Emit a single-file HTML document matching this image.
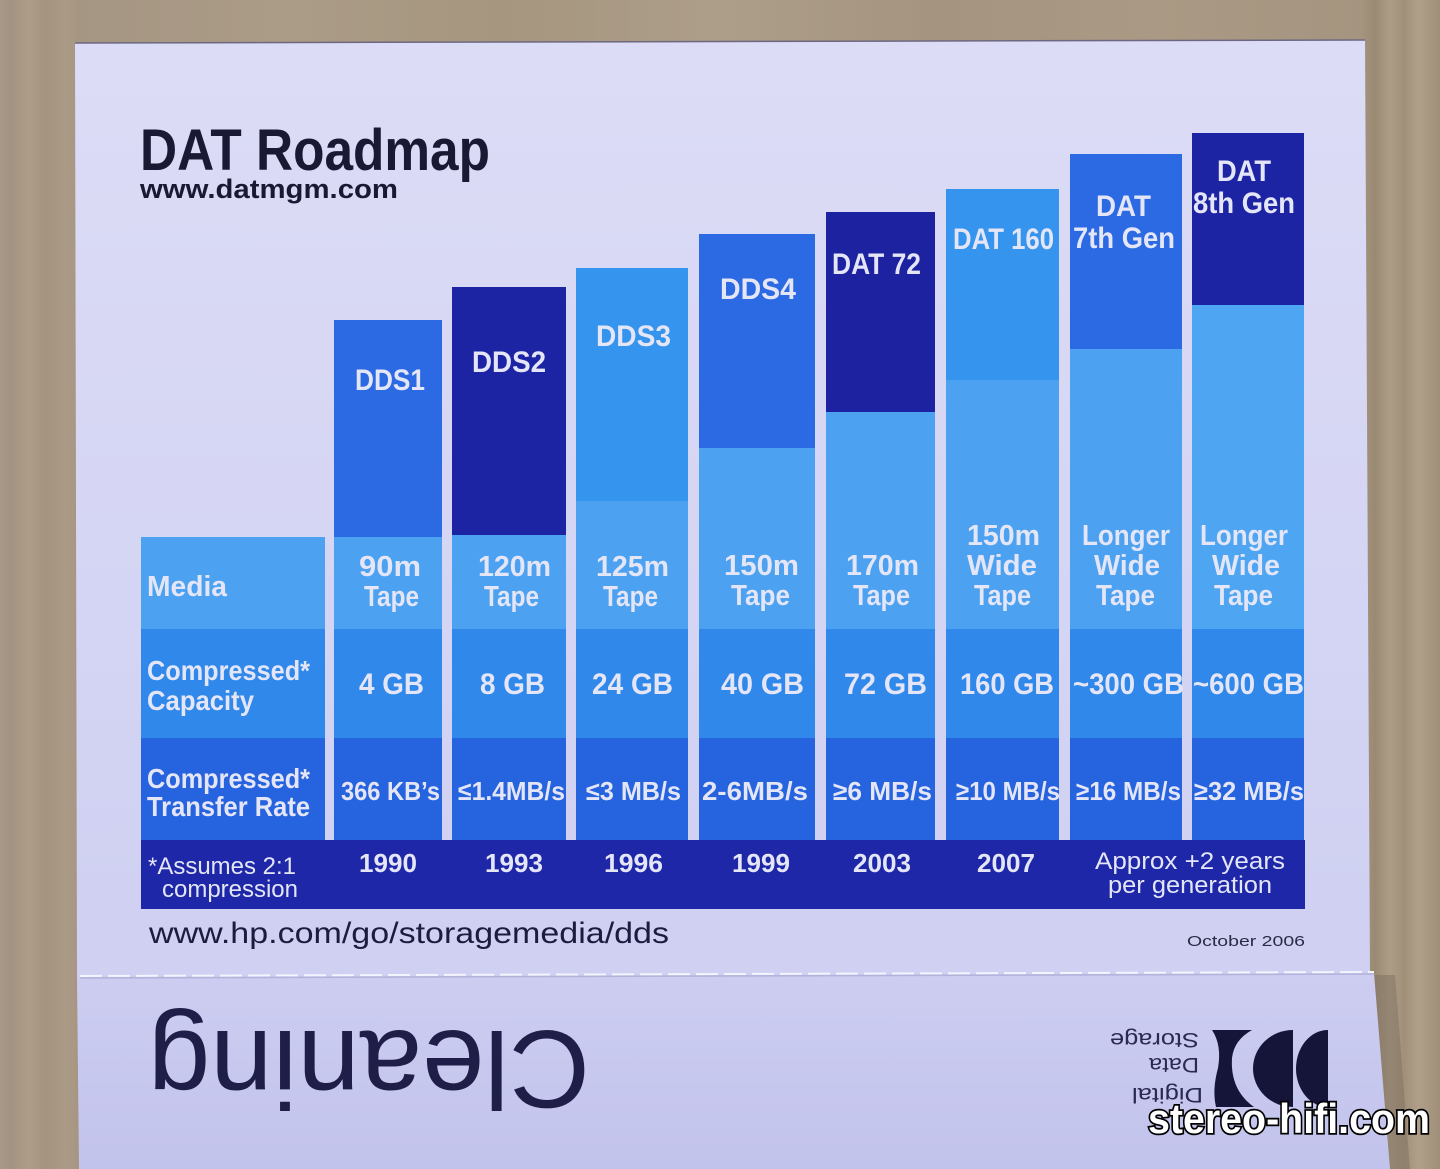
<!DOCTYPE html>
<html><head><meta charset="utf-8"><style>
html,body{margin:0;padding:0;background:#a6957f;}
svg{display:block;}
text{font-family:"Liberation Sans",sans-serif;}
</style></head><body>
<svg width="1440" height="1169" viewBox="0 0 1440 1169" xmlns="http://www.w3.org/2000/svg">
<defs>
<linearGradient id="wood" x1="0" y1="0" x2="1440" y2="0" gradientUnits="userSpaceOnUse">
<stop offset="0" stop-color="#a9998a"/><stop offset="0.008" stop-color="#a29280"/><stop offset="0.02" stop-color="#ae9e88"/><stop offset="0.032" stop-color="#a49480"/><stop offset="0.045" stop-color="#ab9b86"/><stop offset="0.055" stop-color="#a59583"/>
<stop offset="0.2" stop-color="#ab9c87"/><stop offset="0.35" stop-color="#a69680"/><stop offset="0.5" stop-color="#ad9e89"/><stop offset="0.65" stop-color="#a49480"/><stop offset="0.8" stop-color="#aa9a85"/>
<stop offset="0.945" stop-color="#a59580"/><stop offset="0.955" stop-color="#9a8a74"/><stop offset="0.965" stop-color="#ad9d87"/><stop offset="0.975" stop-color="#a19079"/><stop offset="0.985" stop-color="#b09f89"/><stop offset="1" stop-color="#9f8f7a"/>
</linearGradient>
<linearGradient id="card" x1="0" y1="40" x2="0" y2="975" gradientUnits="userSpaceOnUse">
<stop offset="0" stop-color="#dcdcf6"/><stop offset="1" stop-color="#cfd0f2"/>
</linearGradient>
<linearGradient id="card2" x1="0" y1="975" x2="0" y2="1169" gradientUnits="userSpaceOnUse">
<stop offset="0" stop-color="#cdcdf1"/><stop offset="1" stop-color="#c2c3ec"/>
</linearGradient>
</defs>
<rect x="0" y="0" width="1440" height="1169" fill="url(#wood)"/>
<polygon points="1372,975 1395,975 1410,1169 1388,1169" fill="#7d705f" opacity="0.5"/>
<polygon points="75,43 1365,40 1370,975 77,977" fill="url(#card)"/>
<line x1="75" y1="43" x2="1365" y2="40" stroke="#6d6880" stroke-width="1.5"/>
<polygon points="77,977 1374,973 1390,1169 79,1169" fill="url(#card2)"/>
<line x1="80" y1="978" x2="1374" y2="974" stroke="#b2b2da" stroke-width="1.5"/>
<line x1="80" y1="976" x2="1374" y2="972" stroke="#f4f4ff" stroke-width="2" stroke-dasharray="22 6"/>

<text x="140" y="170" font-size="58" font-weight="bold" fill="#191933" textLength="350" lengthAdjust="spacingAndGlyphs">DAT Roadmap</text>
<text x="140" y="198" font-size="27" font-weight="bold" fill="#191933" textLength="258" lengthAdjust="spacingAndGlyphs">www.datmgm.com</text>

<rect x="141" y="537" width="184" height="92" fill="#4ca2f1"/>
<rect x="141" y="629" width="184" height="109" fill="#2f88ea"/>
<rect x="141" y="738" width="184" height="102" fill="#2663de"/>

<g>
<rect x="334" y="320" width="108" height="217" fill="#2b6ae2"/>
<rect x="334" y="537" width="108" height="92" fill="#4ca2f1"/>
<rect x="334" y="629" width="108" height="109" fill="#2f88ea"/>
<rect x="334" y="738" width="108" height="102" fill="#2663de"/>
<rect x="452" y="287" width="114" height="248" fill="#1d24a3"/>
<rect x="452" y="535" width="114" height="94" fill="#4ca2f1"/>
<rect x="452" y="629" width="114" height="109" fill="#2f88ea"/>
<rect x="452" y="738" width="114" height="102" fill="#2663de"/>
<rect x="576" y="268" width="112" height="233" fill="#3594ee"/>
<rect x="576" y="501" width="112" height="128" fill="#4ca2f1"/>
<rect x="576" y="629" width="112" height="109" fill="#2f88ea"/>
<rect x="576" y="738" width="112" height="102" fill="#2663de"/>
<rect x="699" y="234" width="116" height="214" fill="#2b6ae2"/>
<rect x="699" y="448" width="116" height="181" fill="#4ca2f1"/>
<rect x="699" y="629" width="116" height="109" fill="#2f88ea"/>
<rect x="699" y="738" width="116" height="102" fill="#2663de"/>
<rect x="826" y="212" width="109" height="200" fill="#1d22a0"/>
<rect x="826" y="412" width="109" height="217" fill="#4ca2f1"/>
<rect x="826" y="629" width="109" height="109" fill="#2f88ea"/>
<rect x="826" y="738" width="109" height="102" fill="#2663de"/>
<rect x="946" y="189" width="113" height="191" fill="#3594ee"/>
<rect x="946" y="380" width="113" height="249" fill="#4ca2f1"/>
<rect x="946" y="629" width="113" height="109" fill="#2f88ea"/>
<rect x="946" y="738" width="113" height="102" fill="#2663de"/>
<rect x="1070" y="154" width="112" height="195" fill="#2b6ae2"/>
<rect x="1070" y="349" width="112" height="280" fill="#4ca2f1"/>
<rect x="1070" y="629" width="112" height="109" fill="#2f88ea"/>
<rect x="1070" y="738" width="112" height="102" fill="#2663de"/>
<rect x="1192" y="133" width="112" height="172" fill="#1d24a3"/>
<rect x="1192" y="305" width="112" height="324" fill="#4ea5f2"/>
<rect x="1192" y="629" width="112" height="109" fill="#2f88ea"/>
<rect x="1192" y="738" width="112" height="102" fill="#2663de"/>
</g>
<rect x="141" y="840" width="1164" height="69" fill="#1d27a8"/>

<g fill="#e4e6f7" font-weight="bold">
<text x="355" y="390" font-size="30" textLength="70" lengthAdjust="spacingAndGlyphs">DDS1</text>
<text x="472" y="372" font-size="30" textLength="74" lengthAdjust="spacingAndGlyphs">DDS2</text>
<text x="596" y="346" font-size="30" textLength="75" lengthAdjust="spacingAndGlyphs">DDS3</text>
<text x="720" y="299" font-size="30" textLength="76" lengthAdjust="spacingAndGlyphs">DDS4</text>
<text x="832" y="274" font-size="30" textLength="89" lengthAdjust="spacingAndGlyphs">DAT 72</text>
<text x="953" y="249" font-size="30" textLength="101" lengthAdjust="spacingAndGlyphs">DAT 160</text>
<text x="1096" y="216" font-size="30" textLength="55" lengthAdjust="spacingAndGlyphs">DAT</text>
<text x="1073" y="248" font-size="30" textLength="102" lengthAdjust="spacingAndGlyphs">7th Gen</text>
<text x="1217" y="181" font-size="30" textLength="54" lengthAdjust="spacingAndGlyphs">DAT</text>
<text x="1193" y="213" font-size="30" textLength="102" lengthAdjust="spacingAndGlyphs">8th Gen</text>

<text x="147" y="596" font-size="29" textLength="80" lengthAdjust="spacingAndGlyphs">Media</text>
<text x="359" y="576" font-size="29" textLength="62" lengthAdjust="spacingAndGlyphs">90m</text>
<text x="364" y="606" font-size="29" textLength="55" lengthAdjust="spacingAndGlyphs">Tape</text>
<text x="478" y="576" font-size="29" textLength="73" lengthAdjust="spacingAndGlyphs">120m</text>
<text x="484" y="606" font-size="29" textLength="55" lengthAdjust="spacingAndGlyphs">Tape</text>
<text x="596" y="576" font-size="29" textLength="73" lengthAdjust="spacingAndGlyphs">125m</text>
<text x="603" y="606" font-size="29" textLength="55" lengthAdjust="spacingAndGlyphs">Tape</text>
<text x="724" y="575" font-size="29" textLength="75" lengthAdjust="spacingAndGlyphs">150m</text>
<text x="731" y="605" font-size="29" textLength="59" lengthAdjust="spacingAndGlyphs">Tape</text>
<text x="846" y="575" font-size="29" textLength="73" lengthAdjust="spacingAndGlyphs">170m</text>
<text x="853" y="605" font-size="29" textLength="57" lengthAdjust="spacingAndGlyphs">Tape</text>
<text x="967" y="545" font-size="29" textLength="73" lengthAdjust="spacingAndGlyphs">150m</text>
<text x="967" y="575" font-size="29" textLength="70" lengthAdjust="spacingAndGlyphs">Wide</text>
<text x="974" y="605" font-size="29" textLength="57" lengthAdjust="spacingAndGlyphs">Tape</text>
<text x="1082" y="545" font-size="29" textLength="88" lengthAdjust="spacingAndGlyphs">Longer</text>
<text x="1094" y="575" font-size="29" textLength="66" lengthAdjust="spacingAndGlyphs">Wide</text>
<text x="1096" y="605" font-size="29" textLength="59" lengthAdjust="spacingAndGlyphs">Tape</text>
<text x="1200" y="545" font-size="29" textLength="88" lengthAdjust="spacingAndGlyphs">Longer</text>
<text x="1212" y="575" font-size="29" textLength="68" lengthAdjust="spacingAndGlyphs">Wide</text>
<text x="1214" y="605" font-size="29" textLength="59" lengthAdjust="spacingAndGlyphs">Tape</text>

<text x="147" y="680" font-size="28" textLength="163" lengthAdjust="spacingAndGlyphs">Compressed*</text>
<text x="147" y="710" font-size="28" textLength="107" lengthAdjust="spacingAndGlyphs">Capacity</text>
<text x="359" y="694" font-size="30" textLength="65" lengthAdjust="spacingAndGlyphs">4 GB</text>
<text x="480" y="694" font-size="30" textLength="65" lengthAdjust="spacingAndGlyphs">8 GB</text>
<text x="592" y="694" font-size="30" textLength="81" lengthAdjust="spacingAndGlyphs">24 GB</text>
<text x="721" y="694" font-size="30" textLength="83" lengthAdjust="spacingAndGlyphs">40 GB</text>
<text x="844" y="694" font-size="30" textLength="83" lengthAdjust="spacingAndGlyphs">72 GB</text>
<text x="960" y="694" font-size="30" textLength="94" lengthAdjust="spacingAndGlyphs">160 GB</text>
<text x="1073" y="694" font-size="30" textLength="111" lengthAdjust="spacingAndGlyphs">~300 GB</text>
<text x="1193" y="694" font-size="30" textLength="111" lengthAdjust="spacingAndGlyphs">~600 GB</text>

<text x="147" y="788" font-size="28" textLength="163" lengthAdjust="spacingAndGlyphs">Compressed*</text>
<text x="147" y="816" font-size="28" textLength="163" lengthAdjust="spacingAndGlyphs">Transfer Rate</text>
<text x="341" y="800" font-size="26" textLength="99" lengthAdjust="spacingAndGlyphs">366 KB’s</text>
<text x="458" y="800" font-size="26" textLength="107" lengthAdjust="spacingAndGlyphs">≤1.4MB/s</text>
<text x="586" y="800" font-size="26" textLength="95" lengthAdjust="spacingAndGlyphs">≤3 MB/s</text>
<text x="702" y="800" font-size="26" textLength="106" lengthAdjust="spacingAndGlyphs">2-6MB/s</text>
<text x="833" y="800" font-size="26" textLength="99" lengthAdjust="spacingAndGlyphs">≥6 MB/s</text>
<text x="956" y="800" font-size="26" textLength="104" lengthAdjust="spacingAndGlyphs">≥10 MB/s</text>
<text x="1076" y="800" font-size="26" textLength="105" lengthAdjust="spacingAndGlyphs">≥16 MB/s</text>
<text x="1194" y="800" font-size="26" textLength="110" lengthAdjust="spacingAndGlyphs">≥32 MB/s</text>

<text x="359" y="872" font-size="26" textLength="58" lengthAdjust="spacingAndGlyphs">1990</text>
<text x="485" y="872" font-size="26" textLength="58" lengthAdjust="spacingAndGlyphs">1993</text>
<text x="604" y="872" font-size="26" textLength="59" lengthAdjust="spacingAndGlyphs">1996</text>
<text x="732" y="872" font-size="26" textLength="58" lengthAdjust="spacingAndGlyphs">1999</text>
<text x="853" y="872" font-size="26" textLength="58" lengthAdjust="spacingAndGlyphs">2003</text>
<text x="977" y="872" font-size="26" textLength="58" lengthAdjust="spacingAndGlyphs">2007</text>
</g>
<g fill="#e4e6f7">
<text x="148" y="874" font-size="24" textLength="148" lengthAdjust="spacingAndGlyphs">*Assumes 2:1</text>
<text x="162" y="897" font-size="24" textLength="136" lengthAdjust="spacingAndGlyphs">compression</text>
<text x="1095" y="869" font-size="24" textLength="190" lengthAdjust="spacingAndGlyphs">Approx +2 years</text>
<text x="1108" y="893" font-size="24" textLength="164" lengthAdjust="spacingAndGlyphs">per generation</text>
</g>

<text x="149" y="943" font-size="30" fill="#1c1c40" textLength="520" lengthAdjust="spacingAndGlyphs">www.hp.com/go/storagemedia/dds</text>
<text x="1187" y="946" font-size="15" fill="#2a2a48" textLength="118" lengthAdjust="spacingAndGlyphs">October 2006</text>

<text x="590" y="1031" font-size="110" fill="#1e1e48" textLength="442" lengthAdjust="spacingAndGlyphs" transform="rotate(180 590 1031)">Cleaning</text>

<g fill="#15153a">
<path d="M1328,1030 L1328,1107 A32,38.5 0 0 1 1328,1030 Z"/>
<path d="M1293,1030 L1293,1107 A40,38.5 0 0 1 1293,1030 Z"/>
<path d="M1212,1030 L1252,1030 Q1234,1040 1232,1058 Q1230,1090 1254,1107 L1216,1107 Q1212,1090 1218,1068 Q1222,1045 1212,1030 Z"/>
</g>
<g fill="#2a2a50">
<text x="1199" y="1033" font-size="21" textLength="89" lengthAdjust="spacingAndGlyphs" transform="rotate(180 1199 1033)">Storage</text>
<text x="1199" y="1058" font-size="21" textLength="50" lengthAdjust="spacingAndGlyphs" transform="rotate(180 1199 1058)">Data</text>
<text x="1203" y="1088" font-size="21" textLength="71" lengthAdjust="spacingAndGlyphs" transform="rotate(180 1203 1088)">Digital</text>
</g>

<text x="1148" y="1133" font-size="42" font-weight="bold" fill="#ffffff" stroke="#000000" stroke-width="3.5" paint-order="stroke" textLength="282" lengthAdjust="spacingAndGlyphs">stereo-hifi.com</text>
</svg>
</body></html>
